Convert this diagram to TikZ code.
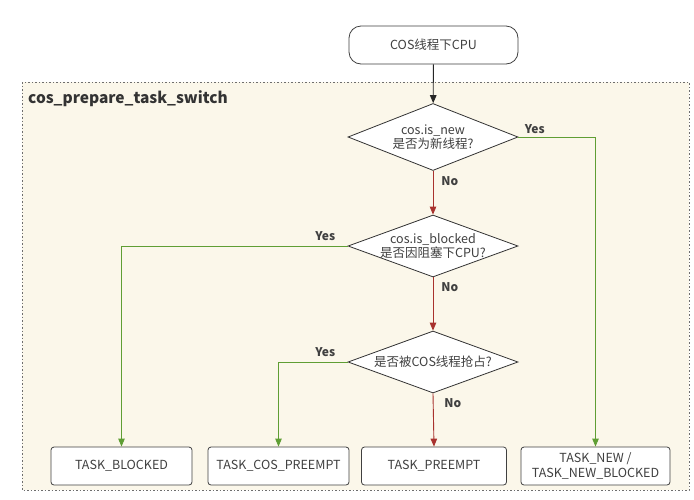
\documentclass[tikz,border=0pt]{standalone}
\usepackage{fontspec}
\setmainfont{Noto Sans CJK SC}
\usetikzlibrary{shapes.geometric,arrows.meta}
\definecolor{cream}{HTML}{FBF7EA}
\definecolor{ygreen}{HTML}{5F9E34}
\definecolor{nred}{HTML}{A8322E}
\definecolor{txt}{HTML}{404040}
\definecolor{frame}{HTML}{6E6E6E}
\tikzset{
  box/.style={draw=black!75, line width=0.8pt, fill=white, rounded corners=3pt, minimum height=38pt, text=txt, font=\fontsize{12.5}{14.5}\selectfont, align=center, inner sep=0pt},
  startbox/.style={box, rounded corners=12pt, minimum width=169pt},
  dia/.style={draw=black!80, line width=0.8pt, fill=white, diamond, shape aspect=2.7, minimum width=170pt, minimum height=64pt, inner sep=-6pt, text=txt, font=\fontsize{12.5}{14.5}\selectfont, align=center},
  lab/.style={text=txt, font=\bfseries\fontsize{12}{14}\selectfont, inner sep=0pt},
  tip/.style={-{Triangle[length=8pt,width=6.5pt]}},
  yesline/.style={draw=ygreen, line width=0.9pt, tip},
  noline/.style={draw=nred, line width=0.9pt, tip},
  blkline/.style={draw=black!85, line width=0.9pt, tip}
}
\begin{document}
\begin{tikzpicture}[x=1pt,y=-1pt]
\useasboundingbox (0,0) rectangle (694,499);
\fill[white] (0,0) rectangle (694,499);
\draw[frame, fill=cream, line width=0.9pt, dash pattern=on 1.5pt off 2pt] (22,82) rectangle (689,490);
\node[anchor=west, text=black!80, font=\bfseries\fontsize{15.5}{18}\selectfont, inner sep=0pt] (title) at (28,99) {cos\_prepare\_task\_switch};

\node[startbox] (start) at (433.5,45) {COS线程下CPU};
\node[dia, minimum height=67pt] (d1) at (433,137) {cos.is\_new\\是否为新线程?};
\node[dia, minimum height=62pt] (d2) at (433,246) {cos.is\_blocked\\是否因阻塞下CPU?};
\node[dia, minimum height=62pt] (d3) at (433,362) {是否被COS线程抢占?};

\node[box, minimum width=141pt] (b1) at (121.5,466) {TASK\_BLOCKED};
\node[box, minimum width=141pt] (b2) at (278.5,466) {TASK\_COS\_PREEMPT};
\node[box, minimum width=145pt] (b3) at (434,466) {TASK\_PREEMPT};
\node[box, minimum width=149pt] (b4) at (595.5,466) {TASK\_NEW /\\TASK\_NEW\_BLOCKED};

\draw[blkline] (start) -- (d1);
\draw[yesline] (d1.east) -| node[lab, pos=0, anchor=south west, xshift=6pt, yshift=3pt] {Yes} (b4.north);
\draw[noline] (d1.south) -- node[lab, pos=0, anchor=north west, xshift=8pt, yshift=-5pt] {No} (d2.north);
\draw[yesline] (d2.west) -| node[lab, pos=0, anchor=south east, xshift=-12pt, yshift=5pt] {Yes} (b1.north);
\draw[noline] (d2.south) -- node[lab, pos=0, anchor=north west, xshift=8pt, yshift=-5pt] {No} (d3.north);
\draw[yesline] (d3.west) -| node[lab, pos=0, anchor=south east, xshift=-12pt, yshift=5pt] {Yes} (b2.north);
\draw[noline] (d3.south) -- node[lab, pos=0, anchor=north west, xshift=11pt, yshift=-5pt] {No} (b3.north);
\end{tikzpicture}
\end{document}
